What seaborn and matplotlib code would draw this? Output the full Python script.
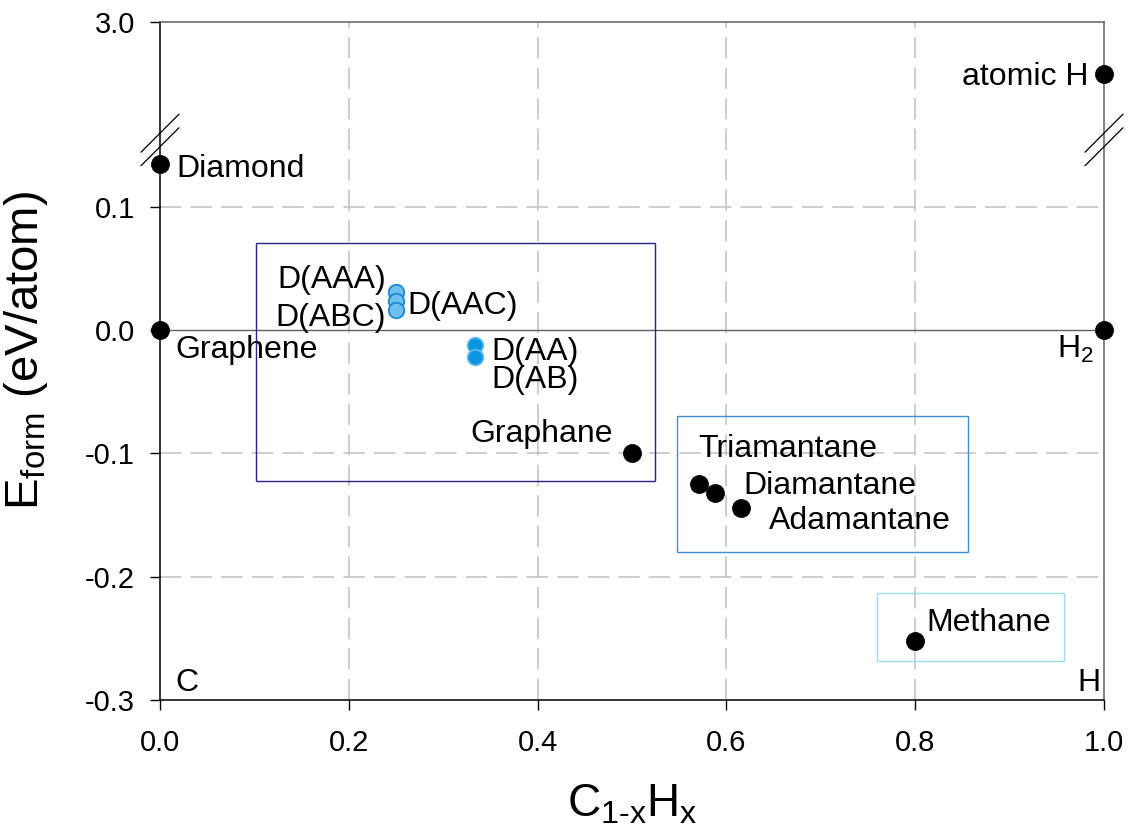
import numpy as np
import pandas as pd
import matplotlib
matplotlib.use("Agg")
import matplotlib.pyplot as plt
from matplotlib.patches import Rectangle
import seaborn as sns

# ---------------- data ----------------
black_labels = ["Graphene", "Diamond", "H$_2$", "atomic H", "Graphane",
                "Triamantane", "Diamantane", "Adamantane", "Methane"]
black_x = [0.0, 0.0, 1.0, 1.0, 0.5, 0.571, 0.588, 0.615, 0.8]
black_E = [0.0, 0.135, 0.0, 2.58, -0.1, -0.125, -0.132, -0.144, -0.252]

blue3_labels = ["D(AAA)", "D(AAC)", "D(ABC)"]
blue3_x = [0.25, 0.25, 0.25]
blue3_E = [0.031, 0.024, 0.016]

blue2_labels = ["D(AA)", "D(AB)"]
blue2_x = [1 / 3, 1 / 3]
blue2_E = [-0.012, -0.022]

xticks = [0.0, 0.2, 0.4, 0.6, 0.8, 1.0]
yticks = [-0.3, -0.2, -0.1, 0.0, 0.1, 3.0]

# ---------------- style ----------------
sns.set_style("ticks")
plt.rcParams["font.family"] = ["Liberation Sans", "DejaVu Sans"]
plt.rcParams["mathtext.fontset"] = "custom"
plt.rcParams["mathtext.rm"] = "Liberation Sans"
plt.rcParams["mathtext.it"] = "Liberation Sans"
plt.rcParams["axes.unicode_minus"] = False
for k in ("text.color", "axes.labelcolor", "xtick.color", "ytick.color",
          "xtick.labelcolor", "ytick.labelcolor"):
    plt.rcParams[k] = "black"

fig = plt.figure(figsize=(11.32, 8.27), dpi=100)
ax = fig.add_axes([160 / 1132, 1 - 700 / 827, 944 / 1132, 678 / 827])

# broken y axis: linear below 0.15, top segment 2.0..3.0 compressed
BRK, TOP0 = 0.15, 2.0


def fwd(y):
    y = np.asarray(y, dtype=float)
    return np.where(y <= BRK, y, np.where(y >= TOP0, BRK + (y - TOP0) * 0.1,
                                          BRK + (y - BRK) * 1e-6))


def inv(d):
    d = np.asarray(d, dtype=float)
    return np.where(d <= BRK, d, TOP0 + (d - BRK) * 10.0)


ax.set_yscale("function", functions=(fwd, inv))
ax.set_xlim(0, 1)
ax.set_ylim(-0.3, 3.0)

# grid lines
gkw = dict(color="#c0c0c0", lw=1.1, dashes=(14, 6), zorder=0)
for gx in xticks[1:-1]:
    ax.axvline(gx, **gkw)
for gy in [-0.2, -0.1, 0.1]:
    ax.axhline(gy, **gkw)
ax.axhline(0.0, color="#606060", lw=1.0, zorder=1)

# boxes
box_kw = dict(fill=False, lw=1.0, zorder=1)
ax.add_patch(Rectangle((0.1017, -0.122), 0.4223, 0.1927, ec="#25258a", **box_kw))
ax.add_patch(Rectangle((0.548, -0.180), 0.308, 0.110, ec="#3d8fd1", **box_kw))
ax.add_patch(Rectangle((0.760, -0.268), 0.198, 0.055, ec="#9dd8f4", **box_kw))

# points
df_black = pd.DataFrame({"x": black_x, "E": black_E, "label": black_labels})
df_b3 = pd.DataFrame({"x": blue3_x, "E": blue3_E, "label": blue3_labels})
df_b2 = pd.DataFrame({"x": blue2_x, "E": blue2_E, "label": blue2_labels})

sns.scatterplot(data=df_black, x="x", y="E", ax=ax, s=170, color="black",
                edgecolor="black", linewidth=0.5, zorder=5, clip_on=False, legend=False)
sns.scatterplot(data=df_b3, x="x", y="E", ax=ax, s=125, color="#6ec1ee",
                edgecolor="#1e88cf", linewidth=1.3, zorder=5, legend=False)
sns.scatterplot(data=df_b2, x="x", y="E", ax=ax, s=125, color="#0a96e0",
                edgecolor="#5db8ec", linewidth=1.3, zorder=5, legend=False)

# labels (offsets in pixels, baseline anchored)
offs = {
    "Graphene": (15, -28, "left"),
    "Diamond": (16, -13, "left"),
    "H$_2$": (-47, -28, "left"),
    "atomic H": (-16, -11, "right"),
    "Graphane": (-19, 11, "right"),
    "Triamantane": (-1, 27, "left"),
    "Diamantane": (28, -1, "left"),
    "Adamantane": (28, -21, "left"),
    "Methane": (11, 10, "left"),
    "D(AAA)": (-10, 4, "right"),
    "D(AAC)": (11, -13, "left"),
    "D(ABC)": (-10, -16, "right"),
    "D(AA)": (17, -15, "left"),
    "D(AB)": (17, -31, "left"),
}
for df in (df_black, df_b3, df_b2):
    for _, r in df.iterrows():
        dx, dy, ha = offs[r["label"]]
        ax.annotate(r["label"], (r["x"], r["E"]), xytext=(dx, dy),
                    textcoords="offset pixels", ha=ha, va="baseline",
                    fontsize=23, zorder=6)

ax.text(0.016, 0.0133, "C", transform=ax.transAxes, fontsize=23,
        ha="left", va="baseline")
ax.text(0.9958, 0.0133, "H", transform=ax.transAxes, fontsize=23,
        ha="right", va="baseline")

# axes styling
ax.set_xticks(xticks)
ax.set_xticklabels([f"{v:.1f}" for v in xticks])
ax.set_yticks(yticks)
ax.set_yticklabels([f"{v:.1f}" for v in yticks])
ax.yaxis.set_minor_locator(matplotlib.ticker.NullLocator())
ax.tick_params(axis="both", direction="out", length=7, width=1.0,
               labelsize=21, color="black", labelcolor="black")
ax.tick_params(axis="x", pad=14)
ax.tick_params(axis="y", pad=11)
ax.tick_params(right=False, top=False)

for side in ("left", "bottom"):
    ax.spines[side].set_color("black")
    ax.spines[side].set_linewidth(1.1)
for side in ("top", "right"):
    ax.spines[side].set_color("#606060")
    ax.spines[side].set_linewidth(1.1)

ax.set_xlabel(r"C$_{\mathregular{1\text{-}x}}$H$_\mathregular{x}$", fontsize=33)
ax.set_ylabel(r"E$_{\mathregular{form}}$ (eV/atom)", fontsize=34)
ax.xaxis.set_label_coords(0.5, -0.122)
ax.yaxis.set_label_coords(-0.117, 0.515)

# break marks on both y spines
for xa in (0.0, 1.0):
    for yc in (0.836, 0.816):
        ax.plot([xa - 0.0201, xa + 0.0201], [yc - 0.028, yc + 0.028],
                transform=ax.transAxes, color="black", lw=0.9,
                clip_on=False, zorder=7)

fig.savefig("out.png", dpi=100)
